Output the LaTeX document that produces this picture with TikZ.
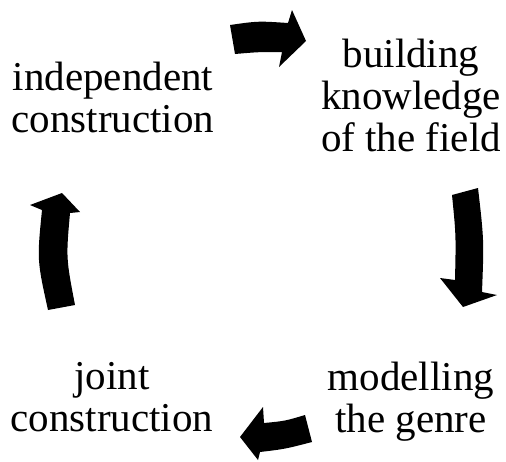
\documentclass[tikz,border=0pt]{standalone}
\usepackage{fontspec}
\setmainfont{Liberation Serif}
\begin{document}
\begin{tikzpicture}[x=1pt,y=-1pt,
  lbl/.style={align=center, inner sep=0pt, anchor=base, font=\fontsize{41}{42}\selectfont},
  blockarrow/.style={fill=black, draw=none}]
\useasboundingbox (0,0) rectangle (506,461);
\node[lbl] (ind) at (113,132) {independent\\construction};
\node[lbl] (bld) at (411,151) {building\\knowledge\\of the field};
\node[lbl] (mod) at (411,432) {modelling\\the genre};
\node[lbl] (jnt) at (112,431) {joint\\construction};
% top arrow
\fill[blockarrow] (230,25) .. controls (258,21) .. (288,23) -- (292,10) -- (306,41) -- (279,67) -- (282,52) .. controls (258,52) .. (235,54) -- cycle;
% right arrow
\fill[blockarrow] (452,195) -- (478,188) .. controls (484,240) .. (482,292) -- (497,295) -- (463,307) -- (440,278) -- (455,280) .. controls (456,235) .. (452,195) -- cycle;
% bottom arrow
\fill[blockarrow] (305,415) -- (312,442) .. controls (285,449) .. (260,452) -- (258,460) -- (240,437) -- (263,407) -- (264,423) .. controls (285,421) .. (305,415) -- cycle;
% left arrow
\fill[blockarrow] (48,310) -- (75,305) .. controls (66,258) .. (70,213) -- (80,212) -- (62,193) -- (30,205) -- (42,210) .. controls (37,260) .. (48,310) -- cycle;
\end{tikzpicture}
\end{document}
